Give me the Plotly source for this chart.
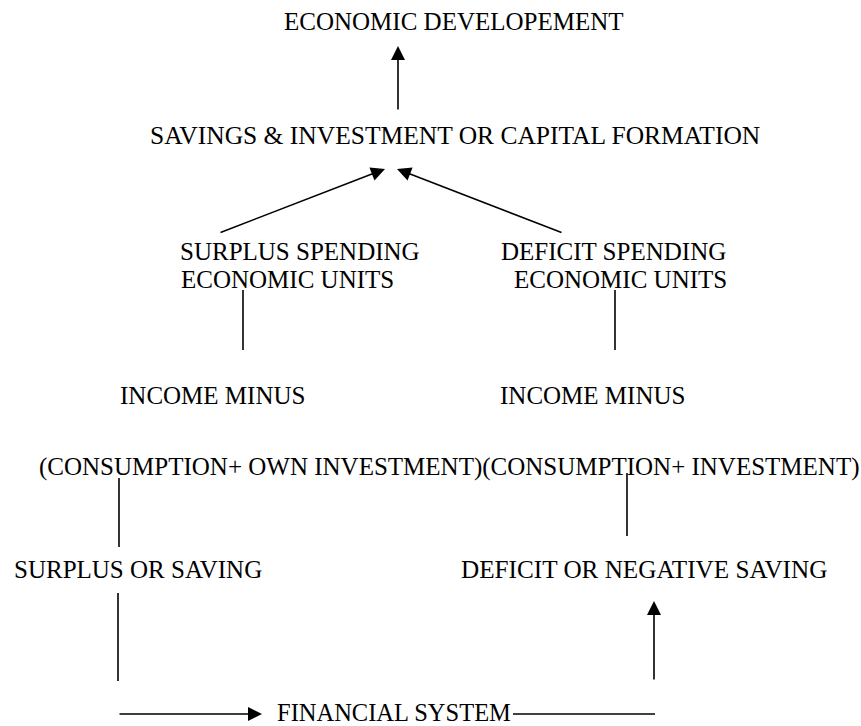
import plotly.graph_objects as go

# ---- diagram content ----
labels = [
    "ECONOMIC DEVELOPEMENT",
    "SAVINGS &amp; INVESTMENT OR CAPITAL FORMATION",
    "SURPLUS SPENDING",
    "ECONOMIC UNITS",
    "DEFICIT SPENDING",
    "ECONOMIC UNITS",
    "INCOME MINUS",
    "INCOME MINUS",
    "(CONSUMPTION+ OWN INVESTMENT)(CONSUMPTION+ INVESTMENT)",
    "SURPLUS OR SAVING",
    "DEFICIT OR NEGATIVE SAVING",
    "FINANCIAL SYSTEM",
]
label_x = [282, 148, 178, 179, 499, 512, 118, 498, 37, 12, 459, 275]
label_y = [21, 135, 251, 279, 251, 279, 395, 395, 467, 569, 569, 712]
label_size = [25, 25.5, 25, 25, 25, 25, 25, 25, 25, 25, 25.2, 24.5]

# connector lines (x0, y0, x1, y1)
line_x0 = [243, 615, 119, 627, 118, 513]
line_y0 = [290, 290, 478, 473, 593, 714]
line_x1 = [243, 615, 119, 627, 118, 655]
line_y1 = [350, 350, 547, 536, 681, 714]

# arrows: tail (ax, ay) -> head (x, y)
arrow_tail_x = [398, 219, 563, 118, 654]
arrow_tail_y = [111, 233, 233, 714, 681]
arrow_head_x = [398, 385, 397, 262, 654]
arrow_head_y = [46, 169, 169, 714, 601]

W, H = 861, 726
FONT = "Liberation Serif, Times New Roman, serif"

fig = go.Figure()

for x0, y0, x1, y1 in zip(line_x0, line_y0, line_x1, line_y1):
    fig.add_trace(go.Scatter(x=[x0, x1], y=[y0, y1], mode="lines",
                             line=dict(color="black", width=1.6),
                             hoverinfo="skip", showlegend=False))

for t, x, y, s in zip(labels, label_x, label_y, label_size):
    fig.add_annotation(x=x, y=y, text=t, showarrow=False, xref="x", yref="y",
                       xanchor="left", yanchor="middle",
                       font=dict(family=FONT, size=s, color="black"))

for ax, ay, x, y in zip(arrow_tail_x, arrow_tail_y, arrow_head_x, arrow_head_y):
    fig.add_annotation(x=x, y=y, ax=ax, ay=ay, xref="x", yref="y",
                       axref="x", ayref="y", text="", showarrow=True,
                       arrowhead=2, arrowsize=1.75, arrowwidth=1.6,
                       arrowcolor="black", standoff=0)

fig.update_layout(
    width=W, height=H,
    margin=dict(l=0, r=0, t=0, b=0),
    paper_bgcolor="white", plot_bgcolor="white",
    xaxis=dict(range=[0, W], visible=False, fixedrange=True),
    yaxis=dict(range=[H, 0], visible=False, fixedrange=True),
    showlegend=False,
)

fig.write_html("out.html", config={"displayModeBar": False},
               post_script="document.body.style.margin='0';document.body.style.overflow='hidden';")
